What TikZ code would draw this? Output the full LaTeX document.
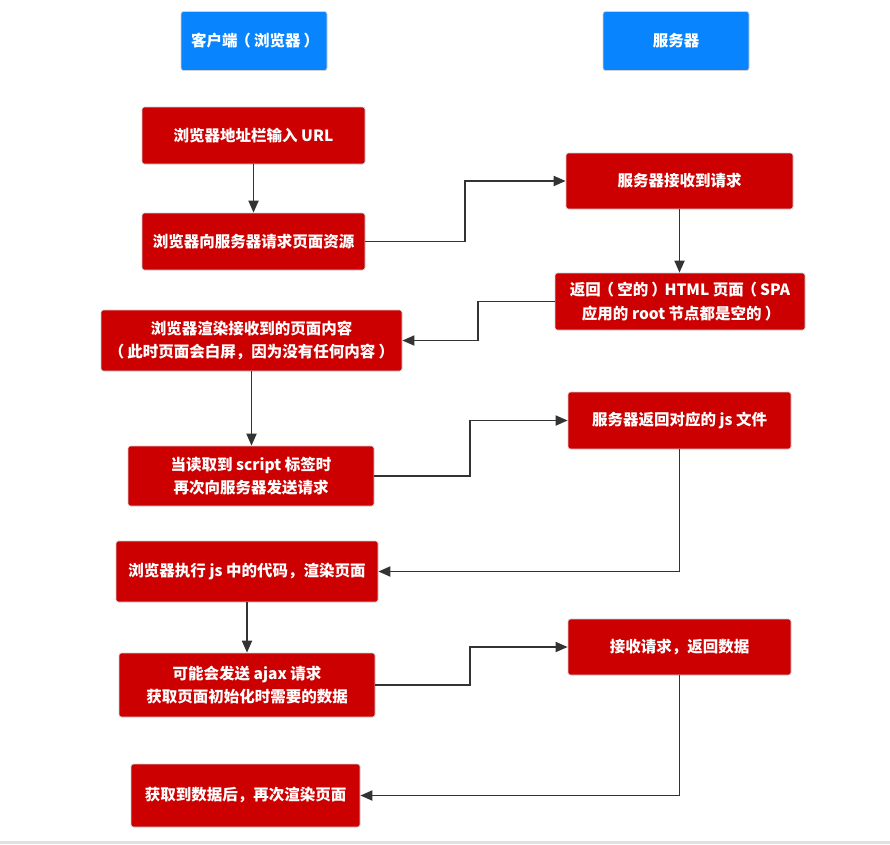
\documentclass[tikz,border=0pt]{standalone}
\usepackage{fontspec}
\newfontfamily\cjk{Noto Sans CJK SC}
\usetikzlibrary{arrows.meta}
\definecolor{hdrblue}{HTML}{0884FF}
\definecolor{boxred}{HTML}{CC0000}
\definecolor{arrgray}{HTML}{333333}
\newcommand\mylp{\kern-0.15em（\kern0.2em}
\newcommand\myrp{\kern0.2em）\kern-0.15em}
\tikzset{
  basebox/.style={rounded corners=2.5pt, text=white, inner sep=0pt, align=center,
    font=\cjk\bfseries\fontsize{15.5}{23.5}\selectfont, draw=black!18, line width=0.7pt},
  hdr/.style={basebox, fill=hdrblue, minimum width=146pt, minimum height=59pt},
  redbox/.style={basebox, fill=boxred},
  arr/.style={draw=arrgray, line width=1.8pt, -{Triangle[length=12pt,width=10pt]}}
}
\begin{document}
\begin{tikzpicture}[x=1pt,y=-1pt]
\useasboundingbox (0,0) rectangle (890,844);
\fill[black!12] (0,841) rectangle (890,844);
\node[hdr] (client) at (254,41) {客户端\mylp 浏览器\myrp};
\node[hdr] (server) at (676,41) {服务器};
\node[redbox, minimum width=223pt, minimum height=57pt] (b1) at (253.5,135.5) {浏览器地址栏输入 URL};
\node[redbox, minimum width=223pt, minimum height=57pt] (b2) at (253.5,241.5) {浏览器向服务器请求页面资源};
\node[redbox, minimum width=227pt, minimum height=56pt] (s1) at (679.5,181) {服务器接收到请求};
\node[redbox, minimum width=250pt, minimum height=57pt] (s2) at (680,301.5) {返回\mylp 空的\myrp HTML 页面\mylp SPA\\应用的 root 节点都是空的\myrp};
\node[redbox, minimum width=301pt, minimum height=61pt] (b3) at (251.5,340.5) {浏览器渲染接收到的页面内容\\\mylp 此时页面会白屏，因为没有任何内容\myrp};
\node[redbox, minimum width=246pt, minimum height=60pt] (b4) at (251,476) {当读取到 script 标签时\\再次向服务器发送请求};
\node[redbox, minimum width=223pt, minimum height=57pt] (s3) at (679.5,420.5) {服务器返回对应的 js 文件};
\node[redbox, minimum width=262pt, minimum height=61pt] (b5) at (247,571.5) {浏览器执行 js 中的代码，渲染页面};
\node[redbox, minimum width=256pt, minimum height=64pt] (b6) at (247,685) {可能会发送 ajax 请求\\获取页面初始化时需要的数据};
\node[redbox, minimum width=223pt, minimum height=56pt] (s4) at (679.5,647) {接收请求，返回数据};
\node[redbox, minimum width=229pt, minimum height=63pt] (b7) at (245.5,795.5) {获取到数据后，再次渲染页面};
\draw[arr] (b1.south) -- (b2.north);
\draw[arr] (b2.east) -- ++(100,0) |- (s1.west);
\draw[arr] (s1.south) -- (s1.south |- s2.north);
\draw[arr] (s2.west) -- ++(-77,0) |- (b3.east);
\draw[arr] (b3.south) -- (b3.south |- b4.north);
\draw[arr] (b4.east) -- ++(96,0) |- (s3.west);
\draw[arr] (s3.south) |- (b5.east);
\draw[arr] (b5.south) -- (b5.south |- b6.north);
\draw[arr] (b6.east) -- ++(95,0) |- (s4.west);
\draw[arr] (s4.south) |- (b7.east);
\end{tikzpicture}
\end{document}
